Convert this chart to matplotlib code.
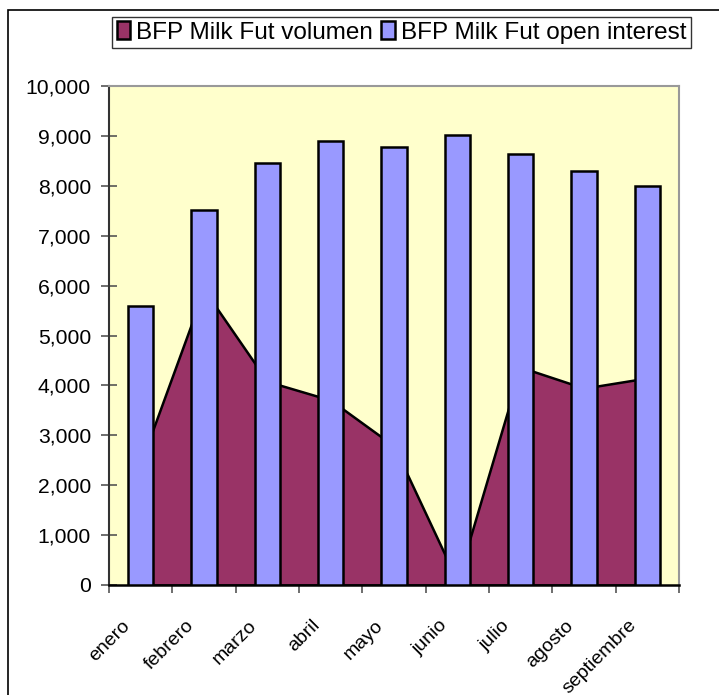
import matplotlib.pyplot as plt
from matplotlib.patches import Patch, Rectangle
from matplotlib.ticker import FuncFormatter
import matplotlib.transforms as mtransforms

plt.rcParams['font.family'] = ['Liberation Sans', 'DejaVu Sans']

# monthly data
meses = ['enero', 'febrero', 'marzo', 'abril', 'mayo', 'junio',
         'julio', 'agosto', 'septiembre']
volumen = [2440, 5920, 4080, 3705, 2785, 80, 4365, 3945, 4150]
open_interest = [5595, 7511, 8458, 8899, 8784, 9018, 8637, 8290, 8002]

col_vol = '#993366'
col_oi = '#9999FF'
fondo = '#FFFFCC'

fig = plt.figure(figsize=(7.19, 6.95), dpi=100)
ax = fig.add_axes([109 / 719, 1 - 585 / 695, 570 / 719, 499 / 695])
ax.set_facecolor(fondo)

x = list(range(len(meses)))

# area first, columns drawn on top of it
ax.fill_between(x, volumen, 0, facecolor=col_vol, edgecolor='black',
                linewidth=1.8, zorder=2)
ax.bar(x, open_interest, width=0.4, color=col_oi, edgecolor='black',
       linewidth=1.8, zorder=3)

ax.set_xlim(-0.5, len(meses) - 0.5)
ax.set_ylim(0, 10000)
ax.set_yticks(range(0, 10001, 1000))
ax.yaxis.set_major_formatter(FuncFormatter(lambda v, p: f'{int(v):,}'))

# tick marks on category boundaries, labels on centers
ax.set_xticks([i - 0.5 for i in range(len(meses) + 1)])
ax.set_xticklabels([])
ax.set_xticks(x, minor=True)
ax.set_xticklabels(meses, minor=True, rotation=45, ha='right',
                   rotation_mode='anchor', fontsize=14)
ax.tick_params(axis='x', which='minor', length=0, pad=23)
ax.tick_params(axis='x', which='major', direction='inout', length=12,
               width=1.2, color='#555555')
ax.tick_params(axis='y', direction='inout', length=12, width=1.2,
               color='#555555', labelsize=15.2, pad=7)

shift = mtransforms.ScaledTranslation(-19 / 100, 0, fig.dpi_scale_trans)
for lbl in ax.get_xticklabels(minor=True):
    lbl.set_transform(lbl.get_transform() + shift)

for s in ['top', 'right']:
    ax.spines[s].set_color('#999999')
    ax.spines[s].set_linewidth(1.5)
ax.spines['left'].set_color('#333333')
ax.spines['left'].set_linewidth(1.5)
ax.spines['bottom'].set_color('black')
ax.spines['bottom'].set_linewidth(1.8)

# outer chart frame (clipped at the right and bottom edges)
fig.patches.append(Rectangle((8 / 719, -0.1), 1.0, 1 - 10 / 695 + 0.1,
                             transform=fig.transFigure, fill=False,
                             edgecolor='black', linewidth=1.2))

handles = [Patch(facecolor=col_vol, edgecolor='black', linewidth=1.8),
           Patch(facecolor=col_oi, edgecolor='black', linewidth=1.8)]
leg = fig.legend(handles, ['BFP Milk Fut volumen', 'BFP Milk Fut open interest'],
                 loc='center', bbox_to_anchor=(401.5 / 719, 1 - 32.5 / 695),
                 ncol=2, fontsize=17.5, frameon=True, fancybox=False,
                 edgecolor='black', handlelength=0.55, handleheight=0.7,
                 handletextpad=0.25, columnspacing=0.35, borderpad=0.2,
                 borderaxespad=0)
leg.get_frame().set_linewidth(1.0)

fig.savefig('out.png', dpi=100)
